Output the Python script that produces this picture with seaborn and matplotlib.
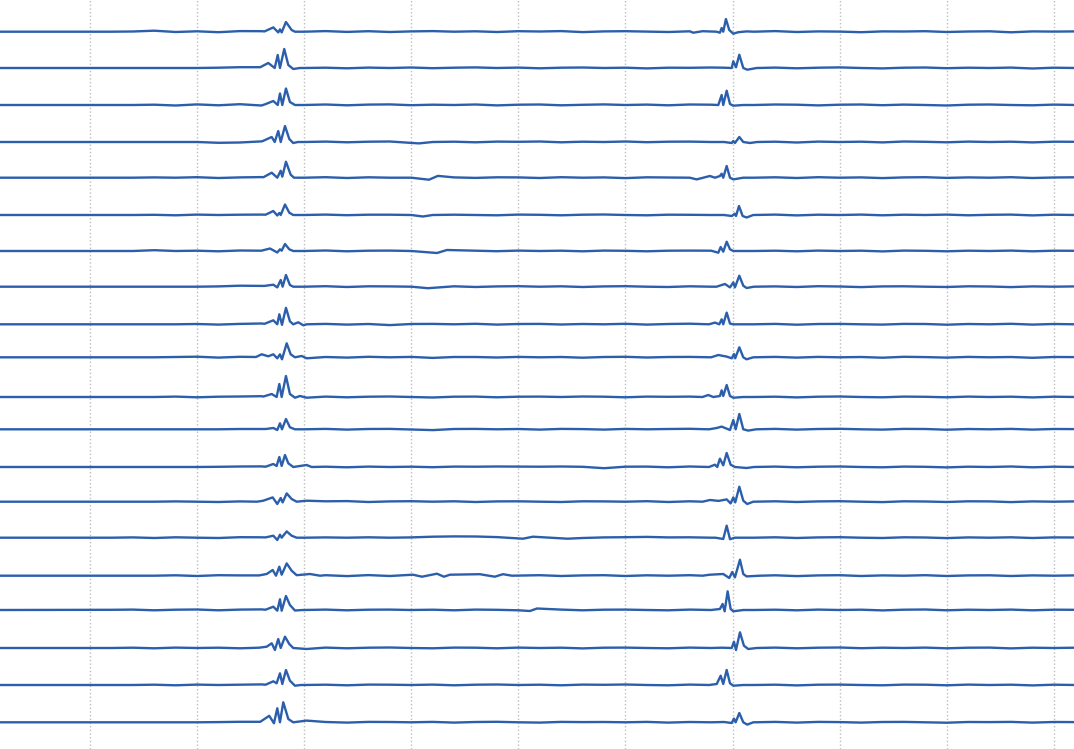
import numpy as np
import pandas as pd
import matplotlib
matplotlib.use("Agg")
import matplotlib.pyplot as plt
import seaborn as sns

# record section: 20 stations, offset (km) of each trace
distance = [6.34, 13.6, 21.0, 28.4, 35.54, 43.0, 50.2, 57.34, 64.86, 71.46,
            79.4, 85.86, 93.4, 100.34, 107.54, 115.14, 122.0, 129.6, 137.0, 144.46]

gain = 0.2          # km per count
t_first, t_last = -8.4, 91.9
noise_t0, noise_dt = 2.0, 2.0

# background noise, one sample every 2 s starting at t = 2 s (counts)
noise = [
    [0, 0.2, 1.0, -0.3, 0.4, -0.5, 0.6, 0.5, 0, 0, 0.6, -0.2, 0.5, -0.3, 0.3, 0.6, 0, 0.4, -0.3, 0.5, 0.2, 0.6, -0.4, 0.3, 0.5, 0.1, -0.3, 0.4, 0, 0, 0, 0.6, -0.3, 0.3, 0.1, -0.5, 0.3, 0.2, 0.5, -0.3, 0.2, 0.4, -0.6, 0.3, 0.1, 0.3],
    [0, 0, 0, 0, 0, 0.3, 0.8, 1.0, 0, 0, 0.3, -0.3, 0.4, 0, 0.5, -0.2, 0.3, 0.6, 0, 0.4, -0.3, 0.3, 0.5, 0, 0.3, -0.4, 0.3, 0.2, 0.5, 0, 0, 0.4, -0.3, 0.3, 0.6, 0, -0.4, 0.3, 0.5, -0.2, 0.3, 0, 0.4, -0.5, 0.3, 0],
    [0, 0, 0.3, -0.5, 0.6, -0.3, 0.8, -0.5, 0, 0, 0.5, -0.3, 0.4, 0.6, -0.2, 0.3, 0, 0.5, -0.4, 0.3, 0.5, -0.3, 0.2, 0.6, 0, 0.4, -0.3, 0.5, 0, 0, 0, 0.5, 0.3, -0.4, 0.3, 0.5, -0.2, 0.4, 0, -0.5, 0.3, 0.5, 0, -0.3, 0.4, 0],
    [0, 0, 0, 0, 0, -0.8, -0.5, 0.6, 0, 0, 0.4, -0.3, 0.3, 0.5, 0, 0, 0.3, -0.3, 0.4, 0.2, 0.5, -0.3, 0.3, 0, 0.5, -0.2, 0.3, 0.4, 0, 0, 0, 0.3, -0.5, 0.4, 0, 0.3, -0.4, 0.5, 0.2, -0.3, 0.4, 0, 0.3, -0.4, 0.3, 0.2],
    [0, 0, 0.3, 0, 0.5, -0.3, 0.3, 0.6, 0, 0, 0.5, -0.3, 0.4, 0, 0, 0, 0.3, -0.2, 0.4, 0.3, -0.3, 0.5, 0, 0.3, -0.4, 0.4, 0.2, -0.5, 0, 0, 0, 0.4, -0.3, 0.5, 0, 0.3, -0.4, 0.3, 0.5, -0.2, 0.3, 0, 0.5, -0.3, 0.2, 0.4],
    [0, 0, 0.2, -0.3, 0.4, 0, 0.3, 0.4, 0, 0, 0.4, -0.2, 0.3, 0.3, 0, 0, 0.3, 0, -0.3, 0.4, 0.2, -0.3, 0.3, 0.5, 0, -0.3, 0.3, 0.2, 0, 0, 0, 0.4, -0.4, 0.3, 0, 0.4, -0.3, 0.3, 0, 0.4, -0.3, 0.2, 0.4, -0.4, 0.3, 0],
    [0, 0, 0.8, 0, 0.3, -0.3, 0.5, 0.3, 0, 0, 0.5, -0.3, 0.3, 0.4, 0, 0, 0, 0.3, -0.2, 0.4, 0, 0.3, -0.3, 0.4, 0.2, -0.3, 0.3, 0.4, 0, 0, 0, 0.3, -0.3, 0.4, 0, 0.3, -0.4, 0.4, 0.2, -0.3, 0.3, 0, 0.4, -0.3, 0.3, 0.2],
    [0, 0, 0, 0, 0, 0.3, 1.0, 0.8, 0, 0, 0.5, -0.3, 0.4, 0.3, 0, 0, 0.4, -0.3, 0.3, 0.5, 0, 0.4, -0.3, 0.3, 0.5, 0, -0.3, 0.4, 0, 0, 0, 0.3, -0.3, 0.5, 0.2, -0.4, 0.3, 0.4, 0, -0.3, 0.4, 0.2, -0.4, 0.3, 0, 0.3],
    [0, 0, 0, 0, 0.3, -0.3, 0.4, 0.8, 0, 0, 0.4, -0.3, 0.3, -0.8, 0.3, 0.4, 0, 0.5, -0.3, 0.3, 0.4, -0.2, 0.3, 0, 0.5, -0.3, 0.3, 0.6, 0, 0, 0, 0.4, -0.4, 0.3, 0.4, 0, -0.3, 0.4, 0.3, -0.4, 0.3, 0, 0.5, -0.3, 0.3, 0],
    [0, 0, 0, 0.3, 0.6, -0.3, 0.5, 0.8, 0, 0, 0.3, -0.3, 0.5, 0, 0.4, -0.6, 0.3, 0.3, -0.2, 0.4, 0, 0.3, -0.4, 0.3, 0.5, -0.2, 0.3, 0.4, 0, 0, 0, 0.4, -0.3, 0.4, 0, 0.3, -0.4, 0.5, 0.2, -0.3, 0.4, 0, 0.3, -0.5, 0.3, 0.2],
    [0, 0, 0, 0.4, -0.3, 0.3, 0.5, 0.8, 0, 0, 0.4, -0.3, 0.3, 0.5, 0, -0.5, 0.3, 0.4, -0.3, 0.3, 0.4, 0, 0.5, 0.3, -0.3, 0.4, 0.2, 0.4, 0, 0, 0, 0.3, -0.4, 0.3, 0.5, 0, -0.3, 0.4, 0.2, -0.3, 0.4, 0, 0.3, -0.4, 0.3, 0],
    [0, 0, 0, 0, 0, 0, 0.3, 0.3, 0, 0, 0.4, -0.3, 0.3, 0.4, -0.2, -0.8, 0.3, 0.4, 0, 0.3, -0.3, 0.4, 0.2, -0.3, 0.4, 0, 0.3, 0.5, 0, 0, 0, 0.4, -0.3, 0.3, 0.5, 0, -0.3, 0.4, 0.3, -0.4, 0.3, 0, 0.4, -0.3, 0.3, 0.2],
    [0, 0, 0, 0, 0, 0.2, 0.5, 0.6, 0, 0, 0.3, -0.3, 0.4, 0, 0.3, -0.2, 0.4, 0.3, 0.5, 0.4, 0.3, 0.5, 0.2, -1.2, 0.3, 0.4, -0.3, 0.5, 0, 0, 0, 0.4, -0.3, 0.3, 0.5, 0, -0.3, 0.4, 0.2, -0.4, 0.3, 0, 0.5, -0.3, 0.3, 0],
    [0, 0, 0, 0.3, 0, -0.3, 0.3, 1.0, 0, 0, 0.4, 0.6, -0.3, 0.3, 0.5, 0, 0.4, -0.3, 0.3, 0.4, 0, -0.3, 0.4, 0.3, 0, 0.5, -0.3, 0.4, 0, 0, 0, 0.4, -0.3, 0.3, 0.5, 0, -0.4, 0.4, 0.2, -0.3, 0.4, 0.3, -0.4, 0.3, 0, 0.3],
    [0, 0.3, -0.3, 0.4, 0, -0.3, 0.5, 0.4, 0, 0, 0.3, 0, 0.4, 0, 0.3, 1.0, 1.3, 1.2, 0.6, 0.5, 0, 0.4, -0.3, 0.3, 0.5, 0.8, 0.3, 0.4, 0, 0, 0, 0.4, -0.3, 0.3, 0.5, 0, -0.3, 0.4, 0.2, -0.4, 0.3, 0, 0.4, -0.3, 0.3, 0.2],
    [0, 0, 0, 0.4, -0.3, 0.5, 0.3, 0.6, 0, 0, 0.5, -0.4, 0.6, -0.3, 0.3, 0, 0, 0.3, 0, -0.5, 0.5, -0.3, 0.3, 0.5, -0.3, 0.4, 0, 0.5, 0, 0, 0, 0.4, -0.4, 0.3, 0.5, -0.3, 0.3, 0, 0.5, -0.3, 0.3, 0.4, -0.3, 0.3, 0, 0.3],
    [0.2, 0.4, -0.3, 0.3, 0.5, -0.3, 0.4, 0.6, 0, 0, 0.4, -0.3, 0.3, 0.4, 0, 0.3, -0.3, 0.4, 0.2, -0.3, 0, 0.4, -0.3, 0.3, 0.4, 0, -0.3, 0.4, 0, 0, 0, 0.3, -0.3, 0.4, 0, 0.3, -0.4, 0.3, 0.5, -0.3, 0.3, 0, 0.4, -0.3, 0.3, 0.2],
    [0, 0.3, -0.3, 0.4, 0, 0.3, -0.3, 0.5, 0, 0, 0.4, -0.3, 0.3, 0.5, 0, -0.3, 0.4, 0.3, -0.3, 0.4, 0, 0.3, -0.4, 0.3, 0.4, 0, -0.3, 0.4, 0, 0, 0, 0.4, -0.3, 0.3, 0.5, -0.2, 0.3, 0, 0.4, -0.3, 0.3, 0.4, -0.4, 0.3, 0, 0.3],
    [0, 0, 0.3, -0.3, 0.4, 0, 0.3, 0.6, 0, 0, 0.3, -0.3, 0.4, 0.3, 0, 0.4, -0.3, 0.3, 0.5, 0, 0.3, -0.3, 0.4, 0.2, 0.5, 0, -0.3, 0.4, 0, 0, 0, 0.3, -0.4, 0.3, 0.4, 0, -0.3, 0.4, 0.3, -0.3, 0.4, 0, 0.3, -0.4, 0.3, 0],
    [0, 0, 0, 0, 0, 0.2, 0.5, 0.8, 0, 0, 0.3, -0.3, 0.4, 0.3, 0, 0.4, -0.3, 0.3, 0.5, 0, -0.3, 0.4, 0.2, 0.3, 0, 0.4, -0.3, 0.3, 0, 0, 0, 0.4, -0.3, 0.4, 0.2, -0.3, 0.3, 0.4, 0, -0.4, 0.3, 0.2, 0.4, -0.3, 0.3, 0.2],
]

# isolated wiggles picked off individual traces: (time s, counts)
extra = {
    3: [(30.72, -1.4)],
    4: [(31.65, -2.0), (32.49, 1.8)],
    5: [(31.09, -1.5)],
    6: [(32.40, -2.0), (33.33, 1.0)],
    7: [(31.56, -1.5)],
    14: [(40.43, -1.0), (41.36, 1.0), (44.6, -1.0)],
    15: [(30.16, 1.0), (31.0, -1.0), (32.4, 2.0), (33.05, -1.0), (33.61, 1.0),
         (36.4, 1.5), (37.8, -1.0), (38.56, 1.5), (39.4, 0)],
    16: [(41.08, -1.0), (41.74, 1.5)],
}

# first arrival (time s, counts)
p_wave = [
    [(16.3, 0.3), (17.12, 4.3), (17.58, -0.7), (17.74, 2.3), (17.90, -0.7), (18.30, 9.7), (18.83, 1.7), (19.14, 0)],
    [(15.9, 0.8), (16.65, 5), (17.25, 0), (17.53, 13), (17.74, 0), (18.14, 19), (18.52, 3), (18.98, -1), (19.61, 0)],
    [(16.3, 0.5), (17.12, 4), (17.53, 0), (17.74, 11.5), (17.96, 0), (18.30, 16.5), (18.67, 3), (19.14, 0)],
    [(16.1, 0.8), (16.97, 5), (17.25, 0), (17.58, 11), (17.81, 0), (18.21, 16), (18.61, 3), (18.98, -1), (19.42, 0)],
    [(16.2, 0.5), (16.97, 5), (17.49, 0), (17.81, 7), (17.96, 1), (18.30, 16), (18.74, 3), (19.05, 0)],
    [(16.4, 0.3), (17.12, 4), (17.49, -0.5), (17.68, 2), (17.81, 0), (18.21, 10.5), (18.61, 2.3), (18.98, 0)],
    [(16.0, 0.3), (16.81, 2.5), (17.49, -1.5), (17.74, 1.7), (17.90, 0.3), (18.21, 7), (18.61, 1.7), (18.98, 0)],
    [(16.3, 0.8), (17.12, 2), (17.49, -0.7), (17.81, 6.7), (17.99, 0), (18.30, 11.7), (18.67, 1.7), (18.98, 0)],
    [(16.3, 0.5), (17.12, 4), (17.49, 0), (17.68, 10), (17.93, -0.5), (18.30, 16.5), (18.67, 3), (18.98, 0), (19.45, 2), (19.92, -1), (20.23, 0)],
    [(15.5, 0.3), (16.03, 3), (16.65, 1), (17.12, 3), (17.49, -1), (17.74, 3), (17.93, -2), (18.37, 14), (18.74, 3), (19.14, 0), (19.77, 1.3), (20.23, -1)],
    [(16.2, 0.5), (16.97, 3), (17.43, 0), (17.68, 13), (17.90, 0), (18.30, 21), (18.67, 3), (19.14, -0.7), (19.61, 1), (20.23, -0.7)],
    [(16.4, 0.3), (17.12, 1.3), (17.49, -0.7), (17.74, 6), (17.93, 0), (18.30, 10.3), (18.67, 2), (19.14, 0)],
    [(16.4, 0.3), (17.12, 3), (17.43, 1), (17.68, 10), (17.90, 1), (18.21, 12), (18.52, 3.7), (18.98, 0), (20.23, 2), (20.70, 0)],
    [(15.6, 0), (16.18, 1), (17.06, 4.3), (17.49, -2.3), (17.81, 3.7), (17.99, -0.7), (18.37, 8.3), (18.83, 2.7), (19.30, 0), (20.23, 1)],
    [(16.4, 0.3), (17.12, 2), (17.49, -2.3), (17.74, 3), (17.90, 0), (18.37, 6.3), (18.83, 2), (19.30, 0)],
    [(15.8, 0.3), (16.50, 1.7), (17.06, 5.7), (17.37, 0), (17.68, 9), (17.90, 1), (18.37, 12.3), (18.83, 5), (19.30, 0.5), (20.54, 1.7), (21.48, 0)],
    [(16.4, 0.3), (17.12, 3.3), (17.49, -0.7), (17.74, 10.7), (17.90, -0.7), (18.30, 14), (18.67, 5), (19.14, -0.5), (19.89, 0)],
    [(15.8, 0.3), (16.50, 1.3), (16.97, 4.7), (17.27, -2), (17.58, 9), (17.81, 0), (18.21, 11.3), (18.61, 4), (18.98, 0), (20.23, -1)],
    [(16.4, 0.3), (17.12, 3.7), (17.43, 1.7), (17.74, 11.7), (17.96, 1), (18.30, 15), (18.67, 4.3), (19.14, -0.7), (19.7, 0)],
    [(15.9, 0.5), (16.74, 6.5), (17.18, -1), (17.49, 14), (17.74, 0), (18.05, 20), (18.52, 3.3), (18.98, 0), (20.23, 1.7)],
]

# second arrival (time s, counts)
s_wave = [
    [(56.33, -1), (57.2, 0.5), (58.5, 0), (58.82, -1), (58.98, 3.7), (59.13, 0), (59.38, 12.7), (59.69, 1.7), (60.07, -2), (60.53, -0.5), (61.31, 0.3)],
    [(59.2, 0.3), (59.92, 0), (60.07, 6.7), (60.32, 0.7), (60.63, 13.3), (61.00, 0), (61.37, -1.7), (62.25, 0)],
    [(58.0, 0.3), (58.67, 0), (58.98, 10), (59.13, 0), (59.45, 14.3), (59.76, 1), (60.07, -0.7), (61.0, 0)],
    [(59.2, 0), (59.92, -1), (60.07, 1), (60.22, -1), (60.63, 5), (61.00, 0), (61.62, -1), (62.3, 0)],
    [(56.0, 0), (56.65, -1.7), (57.26, 0), (57.89, 1.7), (58.36, 0), (58.82, 1.7), (58.98, 4), (59.13, 0), (59.45, 11.7), (59.76, 0), (60.07, -1.7), (61.0, 0)],
    [(59.2, 0), (59.94, -1), (60.20, 1.3), (60.32, -1), (60.60, 9), (60.94, -1), (61.31, -2.5), (61.93, 0)],
    [(58.0, 0.3), (58.67, -1.7), (58.89, 4), (59.13, -0.7), (59.45, 9.3), (59.76, 1.7), (60.07, 0), (61.0, 0)],
    [(58.5, 0), (59.29, 2.7), (59.76, -0.7), (60.07, 4.3), (60.22, -0.7), (60.63, 11), (61.00, 1), (61.31, -1.3), (62.0, 0)],
    [(57.8, 0), (58.36, 1.7), (58.76, 0), (58.98, 5), (59.13, 0), (59.45, 11.7), (59.76, 0.7), (60.07, 0)],
    [(58.0, 0), (58.67, 2.3), (59.45, 0.7), (59.92, -1), (60.13, 3.3), (60.25, -1), (60.63, 10), (61.00, 0), (61.31, -2), (61.93, 0)],
    [(57.2, 0), (57.73, 2), (58.20, 0), (58.82, 1), (58.98, 6.7), (59.13, 1), (59.45, 12), (59.76, 1), (60.07, -0.7), (61.0, 0)],
    [(57.8, 0), (58.52, 1.3), (58.98, 2.7), (59.76, -0.7), (60.07, 9.3), (60.29, 0), (60.63, 15.3), (61.00, 0), (61.46, -1.3), (62.2, 0)],
    [(57.8, 0), (58.36, 2.3), (58.57, 0), (58.82, 8.3), (59.13, 1.7), (59.45, 14), (59.82, 2.3), (60.22, 0), (61.31, -1), (62.0, 0)],
    [(57.2, 0), (57.89, 1.7), (58.7, 0.8), (59.45, 2.3), (59.82, -1.7), (60.07, 4.3), (60.25, -0.7), (60.63, 15), (61.00, 1), (61.37, -2.3), (61.93, 0)],
    [(58.4, 0), (59.13, -1.3), (59.45, 12), (59.76, -1.5), (60.22, 0)],
    [(57.2, 0), (57.89, 1), (59.13, 1.7), (59.69, -2.3), (59.97, 3.7), (60.22, -1.7), (60.69, 16), (61.00, 1.7), (61.31, -0.7), (62.56, 0)],
    [(58.0, 0), (58.82, 1), (59.07, 6), (59.26, -1.3), (59.54, 18.7), (59.82, 1), (60.07, -1.3), (61.0, 0)],
    [(59.0, 0.3), (59.92, 0), (60.13, 6.3), (60.32, -2), (60.69, 15.7), (61.06, 2.3), (61.46, -1), (62.25, 0)],
    [(57.8, 0), (58.52, 1), (58.89, 9.3), (59.13, 1), (59.45, 15), (59.76, 1.7), (60.07, -0.7), (61.0, 0)],
    [(59.2, 0.3), (59.92, -0.7), (60.13, 3.7), (60.29, 0), (60.63, 9.3), (61.00, 0), (61.37, -2.3), (61.93, 0)],
]

rows = []
for i, d in enumerate(distance):
    p, s = p_wave[i], s_wave[i]
    ex = extra.get(i, [])
    pts = [(t_first, 0.0)]
    for k, a in enumerate(noise[i]):
        t = noise_t0 + noise_dt * k
        if p[0][0] <= t <= p[-1][0] or s[0][0] <= t <= s[-1][0]:
            continue
        if any(abs(t - te) < 0.8 for te, _ in ex):
            continue
        pts.append((t, a))
    pts += ex + p + s
    pts.sort()
    for t, a in pts:
        rows.append({"trace": i, "time": t, "y": d - gain * a})

df = pd.DataFrame(rows)

sns.set_style("whitegrid")
fig = plt.figure(figsize=(10.74, 7.49), dpi=100)
ax = fig.add_axes([0, 0, 1, 1])

sns.lineplot(data=df, x="time", y="y", units="trace", estimator=None,
             color="#2b5eab", linewidth=1.7, legend=False, ax=ax, zorder=3)

ax.set_xlim(t_first, 91.88)
ax.set_ylim(149.8, 0)
ax.set_xticks(np.arange(0, 91, 10))
ax.set_yticks([])
ax.set_xticklabels([])
ax.tick_params(length=0)
ax.set_xlabel("")
ax.set_ylabel("")
ax.grid(axis="x", linestyle=":", color="#bdbdbd", linewidth=1.0)
ax.grid(axis="y", visible=False)
for sp in ax.spines.values():
    sp.set_visible(False)

fig.savefig("out.png", dpi=100)
